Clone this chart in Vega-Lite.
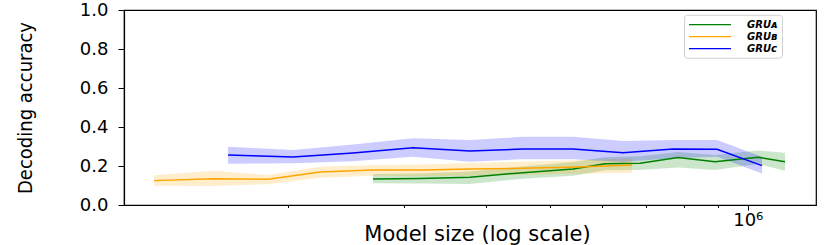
{
  "$schema": "https://vega.github.io/schema/vega-lite/v6.json",
  "width": 692,
  "height": 195,
  "autosize": "none",
  "padding": {"left": 124, "top": 10, "right": 14, "bottom": 40},
  "background": "white",
  "config": {
    "view": {"stroke": "black", "strokeWidth": 1.2},
    "axis": {
      "grid": false,
      "domainColor": "black",
      "domainWidth": 1.2,
      "tickColor": "black",
      "labelColor": "black",
      "titleColor": "black",
      "labelFont": "DejaVu Sans",
      "labelFontSize": 18,
      "labelFontWeight": "normal",
      "titleFontWeight": "normal"
    }
  },
  "data": {
    "values": [
      {"model": "GRU_A", "size": 269300, "mean": 0.133, "lo": 0.111, "hi": 0.159},
      {"model": "GRU_A", "size": 317400, "mean": 0.136, "lo": 0.110, "hi": 0.162},
      {"model": "GRU_A", "size": 378200, "mean": 0.142, "lo": 0.108, "hi": 0.172},
      {"model": "GRU_A", "size": 455200, "mean": 0.166, "lo": 0.135, "hi": 0.197},
      {"model": "GRU_A", "size": 542500, "mean": 0.185, "lo": 0.150, "hi": 0.220},
      {"model": "GRU_A", "size": 606700, "mean": 0.212, "lo": 0.178, "hi": 0.245},
      {"model": "GRU_A", "size": 685700, "mean": 0.214, "lo": 0.180, "hi": 0.250},
      {"model": "GRU_A", "size": 783400, "mean": 0.243, "lo": 0.192, "hi": 0.272},
      {"model": "GRU_A", "size": 891900, "mean": 0.222, "lo": 0.180, "hi": 0.256},
      {"model": "GRU_A", "size": 1036700, "mean": 0.245, "lo": 0.210, "hi": 0.280},
      {"model": "GRU_A", "size": 1139500, "mean": 0.222, "lo": 0.176, "hi": 0.268},

      {"model": "GRU_B", "size": 125100, "mean": 0.125, "lo": 0.099, "hi": 0.152},
      {"model": "GRU_B", "size": 153800, "mean": 0.135, "lo": 0.097, "hi": 0.176},
      {"model": "GRU_B", "size": 186400, "mean": 0.132, "lo": 0.106, "hi": 0.154},
      {"model": "GRU_B", "size": 223700, "mean": 0.169, "lo": 0.140, "hi": 0.196},
      {"model": "GRU_B", "size": 269300, "mean": 0.180, "lo": 0.150, "hi": 0.205},
      {"model": "GRU_B", "size": 320800, "mean": 0.179, "lo": 0.148, "hi": 0.208},
      {"model": "GRU_B", "size": 378200, "mean": 0.184, "lo": 0.150, "hi": 0.215},
      {"model": "GRU_B", "size": 455200, "mean": 0.188, "lo": 0.155, "hi": 0.222},
      {"model": "GRU_B", "size": 552100, "mean": 0.195, "lo": 0.160, "hi": 0.230},
      {"model": "GRU_B", "size": 666800, "mean": 0.205, "lo": 0.166, "hi": 0.239},

      {"model": "GRU_C", "size": 162100, "mean": 0.256, "lo": 0.212, "hi": 0.299},
      {"model": "GRU_C", "size": 203500, "mean": 0.246, "lo": 0.214, "hi": 0.282},
      {"model": "GRU_C", "size": 251000, "mean": 0.267, "lo": 0.225, "hi": 0.310},
      {"model": "GRU_C", "size": 309700, "mean": 0.294, "lo": 0.248, "hi": 0.342},
      {"model": "GRU_C", "size": 378200, "mean": 0.277, "lo": 0.222, "hi": 0.333},
      {"model": "GRU_C", "size": 455200, "mean": 0.287, "lo": 0.235, "hi": 0.350},
      {"model": "GRU_C", "size": 542500, "mean": 0.287, "lo": 0.235, "hi": 0.350},
      {"model": "GRU_C", "size": 646100, "mean": 0.268, "lo": 0.220, "hi": 0.328},
      {"model": "GRU_C", "size": 769800, "mean": 0.287, "lo": 0.240, "hi": 0.333},
      {"model": "GRU_C", "size": 898100, "mean": 0.286, "lo": 0.248, "hi": 0.333},
      {"model": "GRU_C", "size": 1051300, "mean": 0.202, "lo": 0.162, "hi": 0.248}
    ]
  },
  "layer": [
    {
      "mark": {"type": "area", "fillOpacity": 0.2},
      "encoding": {
        "x": {
          "field": "size",
          "type": "quantitative",
          "scale": {"type": "log", "domain": [112600, 1270000], "nice": false},
          "axis": {
            "title": "Model size (log scale)",
            "titleFont": "DejaVu Sans",
            "titleFontSize": 21,
            "titleX": 353,
            "titleY": 35.5,
            "titleBaseline": "alphabetic",
            "values": [200000, 300000, 400000, 500000, 600000, 700000, 800000, 900000, 1000000],
            "tickCount": 20,
            "labelExpr": "datum.value >= 999999 ? '10⁶' : ''",
            "labelFlush": false,
            "labelOverlap": false,
            "labelPadding": 1,
            "tickSize": {"condition": {"test": "datum.value >= 999999", "value": 5}, "value": 2.5}
          }
        },
        "y": {
          "field": "lo",
          "type": "quantitative",
          "scale": {"domain": [0, 1], "nice": false},
          "axis": {
            "title": "Decoding accuracy",
            "titleFont": "Liberation Sans Narrow, DejaVu Sans Condensed, sans-serif",
            "titleFontSize": 20,
            "titleX": -93,
            "titleBaseline": "alphabetic",
            "values": [0, 0.2, 0.4, 0.6, 0.8, 1.0],
            "tickCount": 10,
            "format": ".1f",
            "labelOverlap": false,
            "labelFlush": false,
            "tickSize": 6,
            "labelPadding": 10
          }
        },
        "y2": {"field": "hi"},
        "color": {
          "field": "model",
          "type": "nominal",
          "scale": {"domain": ["GRU_A", "GRU_B", "GRU_C"], "range": ["#008000", "#FFA500", "#0000FF"]}
        }
      }
    },
    {
      "mark": {"type": "line", "strokeWidth": 1.5},
      "encoding": {
        "x": {"field": "size", "type": "quantitative"},
        "y": {"field": "mean", "type": "quantitative"},
        "color": {
          "field": "model",
          "type": "nominal",
          "legend": {
            "title": null,
            "orient": "none",
            "legendX": 560,
            "legendY": 4.7,
            "fillColor": "white",
            "strokeColor": "#d0d0d0",
            "cornerRadius": 3,
            "padding": 4,
            "symbolType": "M-1,0H7.4",
            "symbolSize": 100,
            "symbolStrokeWidth": 1.3,
            "symbolOpacity": 1,
            "symbolFillColor": "transparent",
            "labelFont": "DejaVu Sans",
            "labelFontStyle": "italic",
            "labelFontWeight": "bold",
            "labelFontSize": 10,
            "labelOffset": 47,
            "rowPadding": 1,
            "labelExpr": "datum.label == 'GRU_A' ? 'GRUᴀ' : datum.label == 'GRU_B' ? 'GRUʙ' : 'GRUᴄ'"
          }
        }
      }
    }
  ]
}
